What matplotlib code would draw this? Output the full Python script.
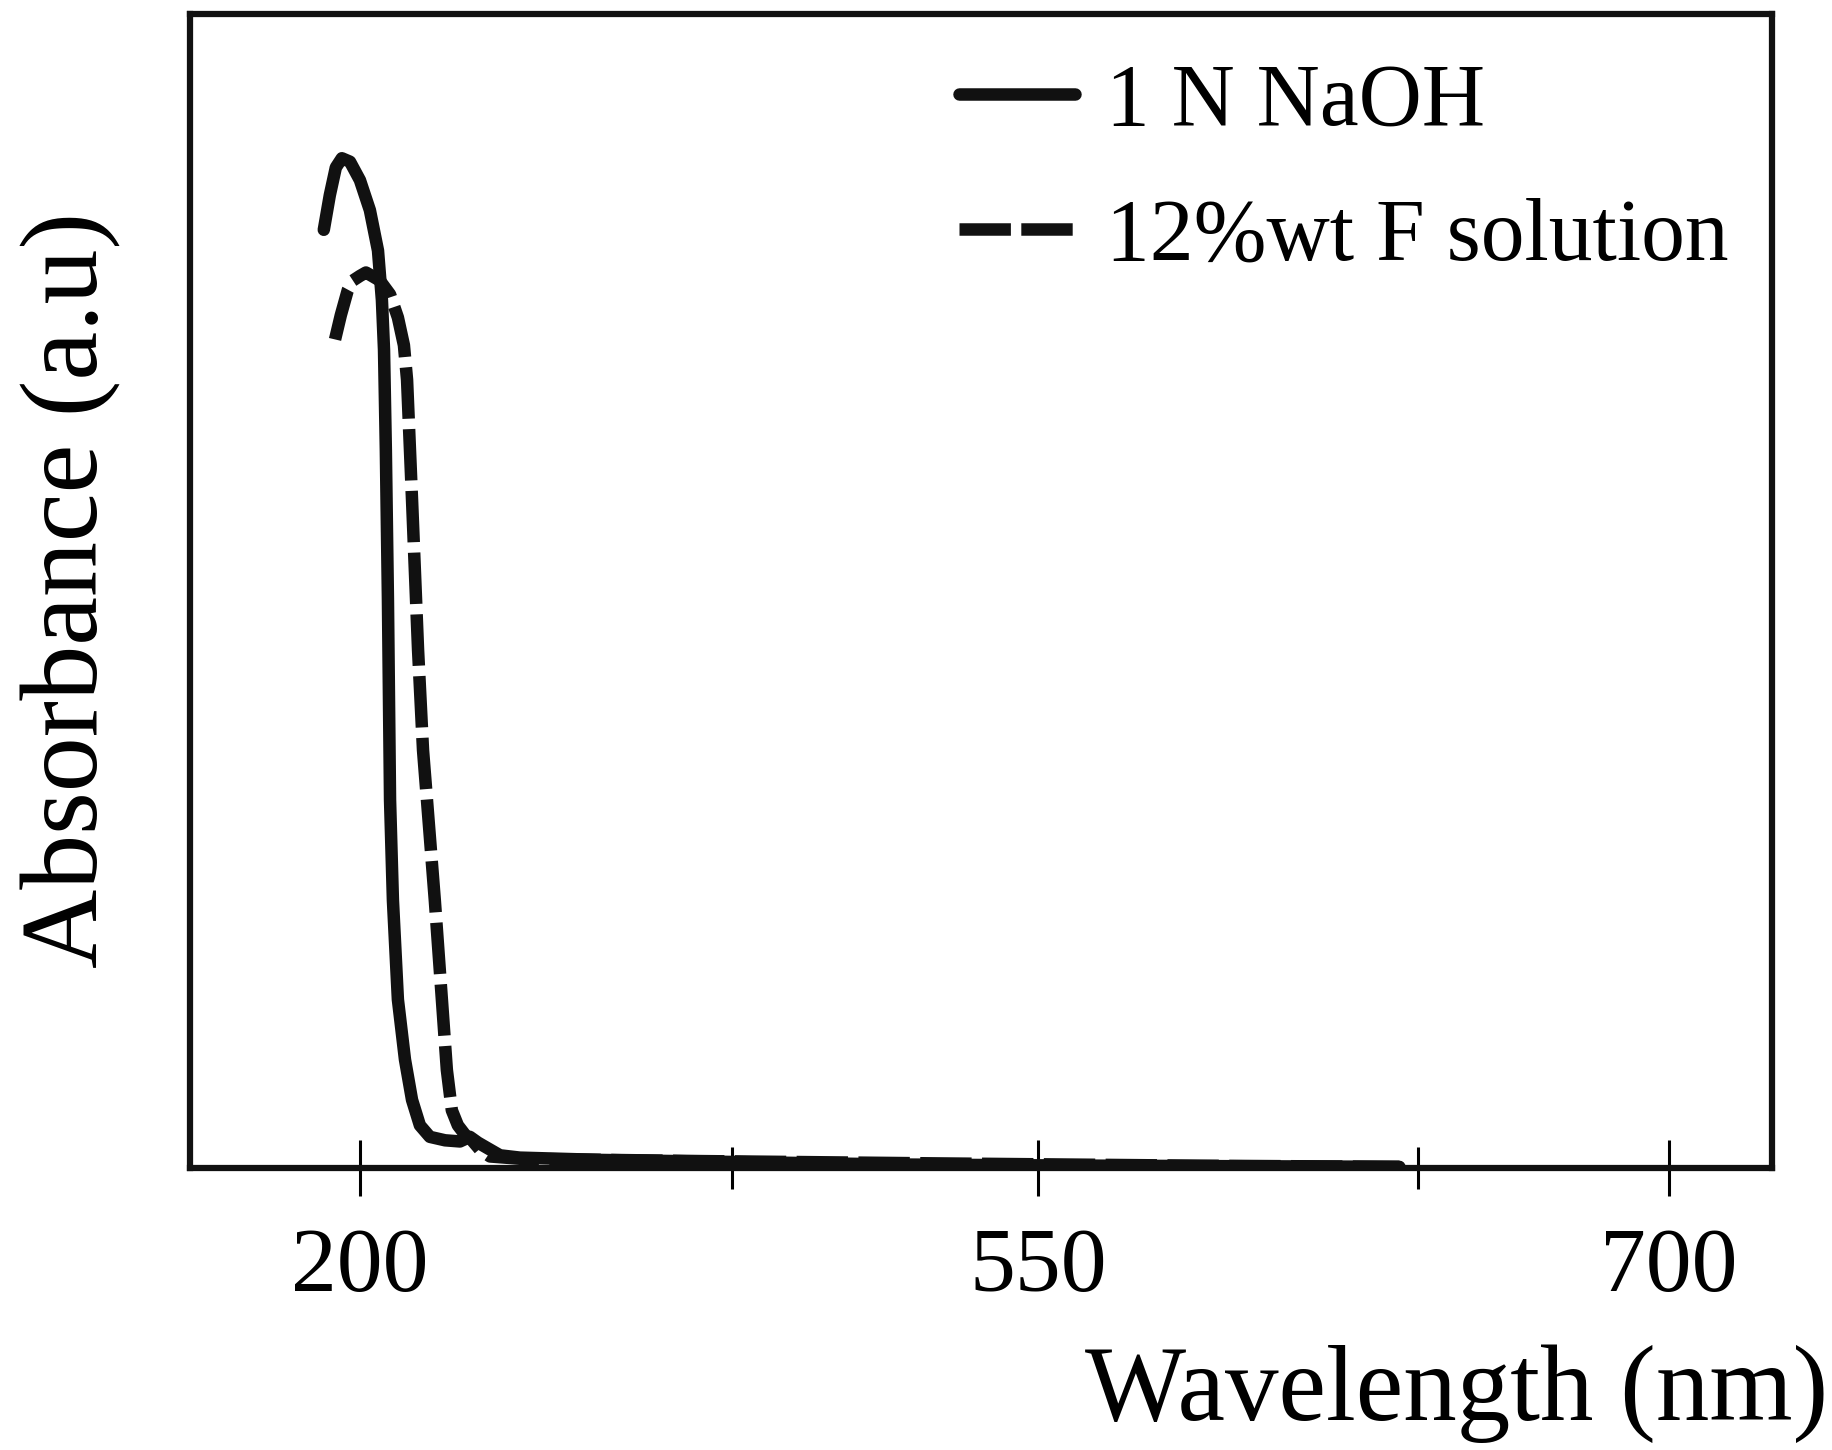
import matplotlib
matplotlib.use("Agg")
import matplotlib.pyplot as plt

plt.rcParams['font.family'] = ['Liberation Serif', 'DejaVu Serif']
plt.rcParams['lines.scale_dashes'] = False

# UV-Vis spectra (wavelength in nm, absorbance in arbitrary units)
naoh_wl = [186.2, 188.5, 190.8, 193.1, 196.2, 200.0, 203.8, 206.9, 208.4, 209.2,
           209.9, 210.7, 211.5, 212.6, 214.5, 217.2, 219.9, 222.9, 226.7, 232.5,
           238.2, 242.0, 245.1, 248.9, 253.5, 261.1, 291.7, 349.0, 406.0, 483.0, 597.0]
naoh_abs = [0.813, 0.843, 0.867, 0.875, 0.872, 0.856, 0.830, 0.795, 0.752, 0.709,
            0.622, 0.492, 0.319, 0.232, 0.146, 0.094, 0.059, 0.037, 0.027, 0.024,
            0.023, 0.027, 0.022, 0.017, 0.011, 0.009, 0.007, 0.005, 0.003, 0.002, 0.001]

f_wl = [190.5, 192.7, 195.4, 197.3, 200.0, 202.3, 204.6, 207.6, 211.5, 214.5,
        216.8, 218.0, 219.9, 222.2, 224.1, 225.6, 228.6, 231.3, 233.2, 235.1,
        237.4, 240.1, 242.8, 245.8, 249.7, 261.1, 330.0, 420.0, 520.0, 597.0]
f_abs = [0.718, 0.739, 0.761, 0.769, 0.773, 0.776, 0.773, 0.769, 0.757, 0.737,
         0.713, 0.683, 0.579, 0.449, 0.362, 0.319, 0.232, 0.146, 0.085, 0.050,
         0.037, 0.029, 0.024, 0.016, 0.010, 0.008, 0.006, 0.004, 0.002, 0.001]

major_ticks = [200, 459, 700]
major_labels = ['200', '550', '700']
minor_ticks = [342, 604]

fig = plt.figure(figsize=(18.33, 14.5), dpi=100)
ax = fig.add_axes([190/1833, 1 - 1168/1450, (1772-190)/1833, (1168-14)/1450])

ax.plot(naoh_wl, naoh_abs, color='#111111', lw=9, solid_capstyle='round',
        solid_joinstyle='round', label='1 N NaOH')
ax.plot(f_wl, f_abs, color='#111111', lw=9, dashes=(37, 7.5),
        label='12%wt F solution')

ax.set_xlim(135.1, 739.3)
ax.set_ylim(0, 1.0)

ax.set_xticks(major_ticks, labels=major_labels)
ax.set_xticks(minor_ticks, minor=True)
ax.tick_params(axis='x', which='major', direction='inout', length=41, width=2.2,
               labelsize=66, pad=22)
ax.tick_params(axis='x', which='minor', direction='inout', length=30, width=2.2)
ax.set_yticks([])

for s in ax.spines.values():
    s.set_linewidth(4.5)
    s.set_color('#111111')

ax.legend(loc='upper left', bbox_to_anchor=(0.486, 0.958), frameon=False,
          fontsize=63, handlelength=1.33, handletextpad=0.35, labelspacing=0.62,
          borderpad=0, borderaxespad=0)

fig.text(1828/1833, 1 - 1420/1450, 'Wavelength (nm)', ha='right', va='baseline',
         fontsize=77)
fig.text(71/1833, 1 - 590/1450, 'Absorbance (a.u)', ha='center', va='center',
         rotation=90, fontsize=79)

fig.savefig('out.png', dpi=100)
